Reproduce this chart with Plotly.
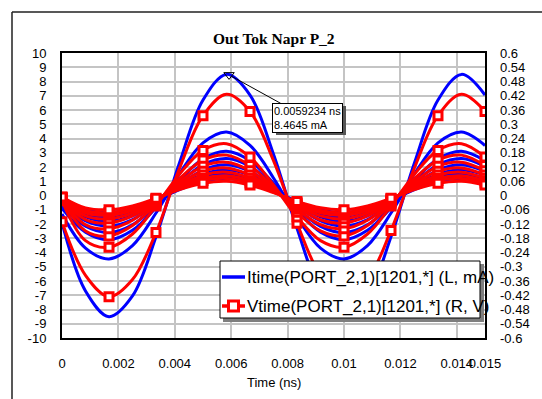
import plotly.graph_objects as go

# ---------------- data ----------------
time_ns = [0.0, 0.000833, 0.001667, 0.0025, 0.003333, 0.004167, 0.005, 0.005833,
           0.006667, 0.0075, 0.008333, 0.009167, 0.01, 0.010833, 0.011667,
           0.0125, 0.013333, 0.014167, 0.015]

itime_1 = [-1.9, -6.7, -8.5, -7.05, -2.9, 2.3, 6.7, 8.5, 7.05, 2.9, -2.3, -6.7, -8.5, -7.05, -2.9, 2.3, 6.7, 8.5, 7.05]
itime_2 = [-1.3, -3.69, -4.45, -3.51, -1.23, 1.52, 3.69, 4.45, 3.51, 1.23, -1.52, -3.69, -4.45, -3.51, -1.23, 1.52, 3.69, 4.45, 3.51]
itime_3 = [-0.9, -2.57, -3.1, -2.44, -0.86, 1.06, 2.57, 3.1, 2.44, 0.86, -1.06, -2.57, -3.1, -2.44, -0.86, 1.06, 2.57, 3.1, 2.44]
itime_4 = [-0.75, -2.16, -2.6, -2.05, -0.72, 0.89, 2.16, 2.6, 2.05, 0.72, -0.89, -2.16, -2.6, -2.05, -0.72, 0.89, 2.16, 2.6, 2.05]
itime_5 = [-0.62, -1.78, -2.15, -1.69, -0.59, 0.74, 1.78, 2.15, 1.69, 0.59, -0.74, -1.78, -2.15, -1.69, -0.59, 0.74, 1.78, 2.15, 1.69]
itime_6 = [-0.52, -1.49, -1.8, -1.42, -0.5, 0.62, 1.49, 1.8, 1.42, 0.5, -0.62, -1.49, -1.8, -1.42, -0.5, 0.62, 1.49, 1.8, 1.42]
itime_7 = [-0.45, -1.28, -1.55, -1.22, -0.43, 0.53, 1.28, 1.55, 1.22, 0.43, -0.53, -1.28, -1.55, -1.22, -0.43, 0.53, 1.28, 1.55, 1.22]
itime_8 = [-0.39, -1.12, -1.35, -1.06, -0.37, 0.46, 1.12, 1.35, 1.06, 0.37, -0.46, -1.12, -1.35, -1.06, -0.37, 0.46, 1.12, 1.35, 1.06]
itime_9 = [-0.35, -0.99, -1.2, -0.95, -0.33, 0.41, 0.99, 1.2, 0.95, 0.33, -0.41, -0.99, -1.2, -0.95, -0.33, 0.41, 0.99, 1.2, 0.95]

vtime_1 = [-0.110, -0.336, -0.426, -0.354, -0.156, 0.114, 0.336, 0.426, 0.354, 0.147, -0.117, -0.336, -0.426, -0.354, -0.147, 0.117, 0.336, 0.426, 0.354]
vtime_2 = [-0.022, -0.19, -0.218, -0.162, -0.044, 0.09, 0.19, 0.218, 0.162, 0.044, -0.09, -0.19, -0.218, -0.162, -0.044, 0.09, 0.19, 0.218, 0.162]
vtime_3 = [-0.017, -0.149, -0.17, -0.126, -0.034, 0.071, 0.149, 0.17, 0.126, 0.034, -0.071, -0.149, -0.17, -0.126, -0.034, 0.071, 0.149, 0.17, 0.126]
vtime_4 = [-0.014, -0.123, -0.14, -0.104, -0.028, 0.058, 0.123, 0.14, 0.104, 0.028, -0.058, -0.123, -0.14, -0.104, -0.028, 0.058, 0.123, 0.14, 0.104]
vtime_5 = [-0.012, -0.102, -0.116, -0.086, -0.024, 0.048, 0.102, 0.116, 0.086, 0.024, -0.048, -0.102, -0.116, -0.086, -0.024, 0.048, 0.102, 0.116, 0.086]
vtime_6 = [-0.01, -0.086, -0.098, -0.073, -0.02, 0.041, 0.086, 0.098, 0.073, 0.02, -0.041, -0.086, -0.098, -0.073, -0.02, 0.041, 0.086, 0.098, 0.073]
vtime_7 = [-0.008, -0.073, -0.083, -0.062, -0.017, 0.035, 0.073, 0.083, 0.062, 0.017, -0.035, -0.073, -0.083, -0.062, -0.017, 0.035, 0.073, 0.083, 0.062]
vtime_8 = [-0.007, -0.063, -0.072, -0.053, -0.014, 0.03, 0.063, 0.072, 0.053, 0.014, -0.03, -0.063, -0.072, -0.053, -0.014, 0.03, 0.063, 0.072, 0.053]
vtime_9 = [-0.006, -0.052, -0.06, -0.044, -0.012, 0.025, 0.052, 0.06, 0.044, 0.012, -0.025, -0.052, -0.06, -0.044, -0.012, 0.025, 0.052, 0.06, 0.044]

itime_series = [itime_1, itime_2, itime_3, itime_4, itime_5, itime_6, itime_7, itime_8, itime_9]
vtime_series = [vtime_1, vtime_2, vtime_3, vtime_4, vtime_5, vtime_6, vtime_7, vtime_8, vtime_9]

x_tickvals = [0, 0.002, 0.004, 0.006, 0.008, 0.01, 0.012, 0.014, 0.015]
x_ticktext = ["0", "0.002", "0.004", "0.006", "0.008", "0.01", "0.012", "0.014", "0.015"]
yl_tickvals = list(range(10, -11, -1))
yl_ticktext = [str(v) for v in yl_tickvals]
yr_tickvals = [0.6, 0.54, 0.48, 0.42, 0.36, 0.3, 0.24, 0.18, 0.12, 0.06, 0,
               -0.06, -0.12, -0.18, -0.24, -0.3, -0.36, -0.42, -0.48, -0.54, -0.6]
yr_ticktext = ["0.6", "0.54", "0.48", "0.42", "0.36", "0.3", "0.24", "0.18", "0.12", "0.06", "0",
               "-0.06", "-0.12", "-0.18", "-0.24", "-0.3", "-0.36", "-0.42", "-0.48", "-0.54", "-0.6"]

marker_time = [0.0059234]
marker_itime = [8.4645]
marker_label = "0.0059234 ns<br>8.4645 mA"

title_text = "Out Tok Napr P_2"
xaxis_title = "Time (ns)"
legend_i = "Itime(PORT_2,1)[1201,*] (L, mA)"
legend_v = "Vtime(PORT_2,1)[1201,*] (R, V)"

# ---------------- layout helpers ----------------
W, H = 542, 399
PL, PR, PT, PB = 62, 485, 53, 338


def px(xp):
    return (xp - PL) / (PR - PL)


def py(yp):
    return (PB - yp) / (PB - PT)


BLUE = "#0000ff"
RED = "#ff0000"
FONT = "Liberation Sans, Arial, sans-serif"

fig = go.Figure()

for ys in itime_series:
    fig.add_trace(go.Scatter(x=time_ns, y=ys, mode="lines", yaxis="y",
                             line=dict(color=BLUE, width=3, shape="spline", smoothing=1),
                             showlegend=False, hoverinfo="skip"))

for ys in vtime_series:
    fig.add_trace(go.Scatter(x=time_ns, y=ys, mode="lines", yaxis="y2",
                             line=dict(color=RED, width=3, shape="spline", smoothing=1),
                             showlegend=False, hoverinfo="skip"))
for ys in vtime_series:
    fig.add_trace(go.Scatter(x=time_ns[::2], y=ys[::2], mode="markers", yaxis="y2",
                             marker=dict(symbol="square", size=8, color="white",
                                         line=dict(color=RED, width=3)),
                             showlegend=False, hoverinfo="skip"))

fig.add_trace(go.Scatter(x=marker_time, y=marker_itime, mode="markers", yaxis="y",
                         marker=dict(symbol="triangle-down-open", size=9, color="black",
                                     line=dict(width=1)),
                         showlegend=False, hoverinfo="skip"))

shapes = [
    # outer frame (top and left edges)
    dict(type="line", xref="paper", yref="paper", x0=px(12), x1=px(545), y0=py(12), y1=py(12),
         line=dict(color="#202020", width=1.5), layer="above"),
    dict(type="line", xref="paper", yref="paper", x0=px(12), x1=px(12), y0=py(12), y1=py(402),
         line=dict(color="#202020", width=1.5), layer="above"),
    # legend box with shadow
    dict(type="rect", xref="paper", yref="paper", x0=px(223), x1=px(484), y0=py(264), y1=py(322),
         fillcolor="#7f7f7f", line=dict(width=0), layer="above"),
    dict(type="rect", xref="paper", yref="paper", x0=px(220), x1=px(480), y0=py(261), y1=py(318),
         fillcolor="white", line=dict(color="black", width=1), layer="above"),
    dict(type="line", xref="paper", yref="paper", x0=px(222), x1=px(245), y0=py(277), y1=py(277),
         line=dict(color=BLUE, width=3.5), layer="above"),
    dict(type="line", xref="paper", yref="paper", x0=px(222), x1=px(245), y0=py(306), y1=py(306),
         line=dict(color=RED, width=3.5), layer="above"),
    dict(type="rect", xref="paper", yref="paper", x0=px(228.5), x1=px(238.5), y0=py(301), y1=py(311),
         fillcolor="white", line=dict(color=RED, width=3), layer="above"),
    # annotation box shadow
    dict(type="rect", xref="paper", yref="paper", x0=px(276), x1=px(346), y0=py(106), y1=py(135),
         fillcolor="#555555", line=dict(width=0), layer="above"),
]

annotations = [
    dict(text="<b>" + title_text + "</b>", xref="paper", yref="paper", x=0.5, y=py(38.5),
         xanchor="center", yanchor="middle", showarrow=False,
         font=dict(family="Liberation Serif, Times New Roman, serif", size=15.5, color="black")),
    dict(text=xaxis_title, xref="paper", yref="paper", x=px(273.5), y=py(382),
         xanchor="center", yanchor="middle", showarrow=False,
         font=dict(family=FONT, size=13, color="black")),
    dict(text=legend_i, xref="paper", yref="paper", x=px(245), y=py(277),
         xanchor="left", yanchor="middle", showarrow=False,
         font=dict(family=FONT, size=17, color="black")),
    dict(text=legend_v, xref="paper", yref="paper", x=px(245), y=py(306),
         xanchor="left", yanchor="middle", showarrow=False,
         font=dict(family=FONT, size=17, color="black")),
    dict(text=marker_label, x=marker_time[0], y=marker_itime[0], xref="x", yref="y",
         showarrow=True, arrowhead=0, arrowwidth=1, arrowcolor="black",
         ax=78, ay=43, standoff=3, align="left",
         bgcolor="white", bordercolor="black", borderwidth=1, borderpad=1,
         font=dict(family=FONT, size=11, color="black")),
]

fig.update_layout(
    width=W, height=H,
    margin=dict(l=PL, r=W - PR, t=PT, b=H - PB, pad=0, autoexpand=False),
    paper_bgcolor="white", plot_bgcolor="white",
    font=dict(family=FONT, size=13, color="black"),
    showlegend=False,
    shapes=shapes,
    annotations=annotations,
    xaxis=dict(range=[0, 0.015], tickvals=x_tickvals, ticktext=x_ticktext,
               showgrid=True, gridcolor="#c4c4c4", gridwidth=2,
               showline=True, linecolor="black", linewidth=2, mirror=True,
               ticks="", ticklabelstandoff=12, zeroline=False, tickangle=0,
               automargin=False,
               tickfont=dict(family=FONT, size=13, color="black")),
    yaxis=dict(range=[-10, 10], tickvals=yl_tickvals, ticktext=yl_ticktext,
               showgrid=True, gridcolor="#c4c4c4", gridwidth=2,
               showline=True, linecolor="black", linewidth=2, mirror=True,
               ticks="", ticklabelstandoff=11, zeroline=False, automargin=False,
               tickfont=dict(family=FONT, size=13, color="black")),
    yaxis2=dict(range=[-0.6, 0.6], tickvals=yr_tickvals, ticktext=yr_ticktext,
                overlaying="y", side="right", showgrid=False, zeroline=False,
                showline=False, ticks="", ticklabelstandoff=14, automargin=False,
                tickfont=dict(family=FONT, size=13, color="black")),
)

fig.write_html("out.html", config={"displayModeBar": False},
               post_script="document.body.style.margin='0px';document.body.style.overflow='hidden';")
